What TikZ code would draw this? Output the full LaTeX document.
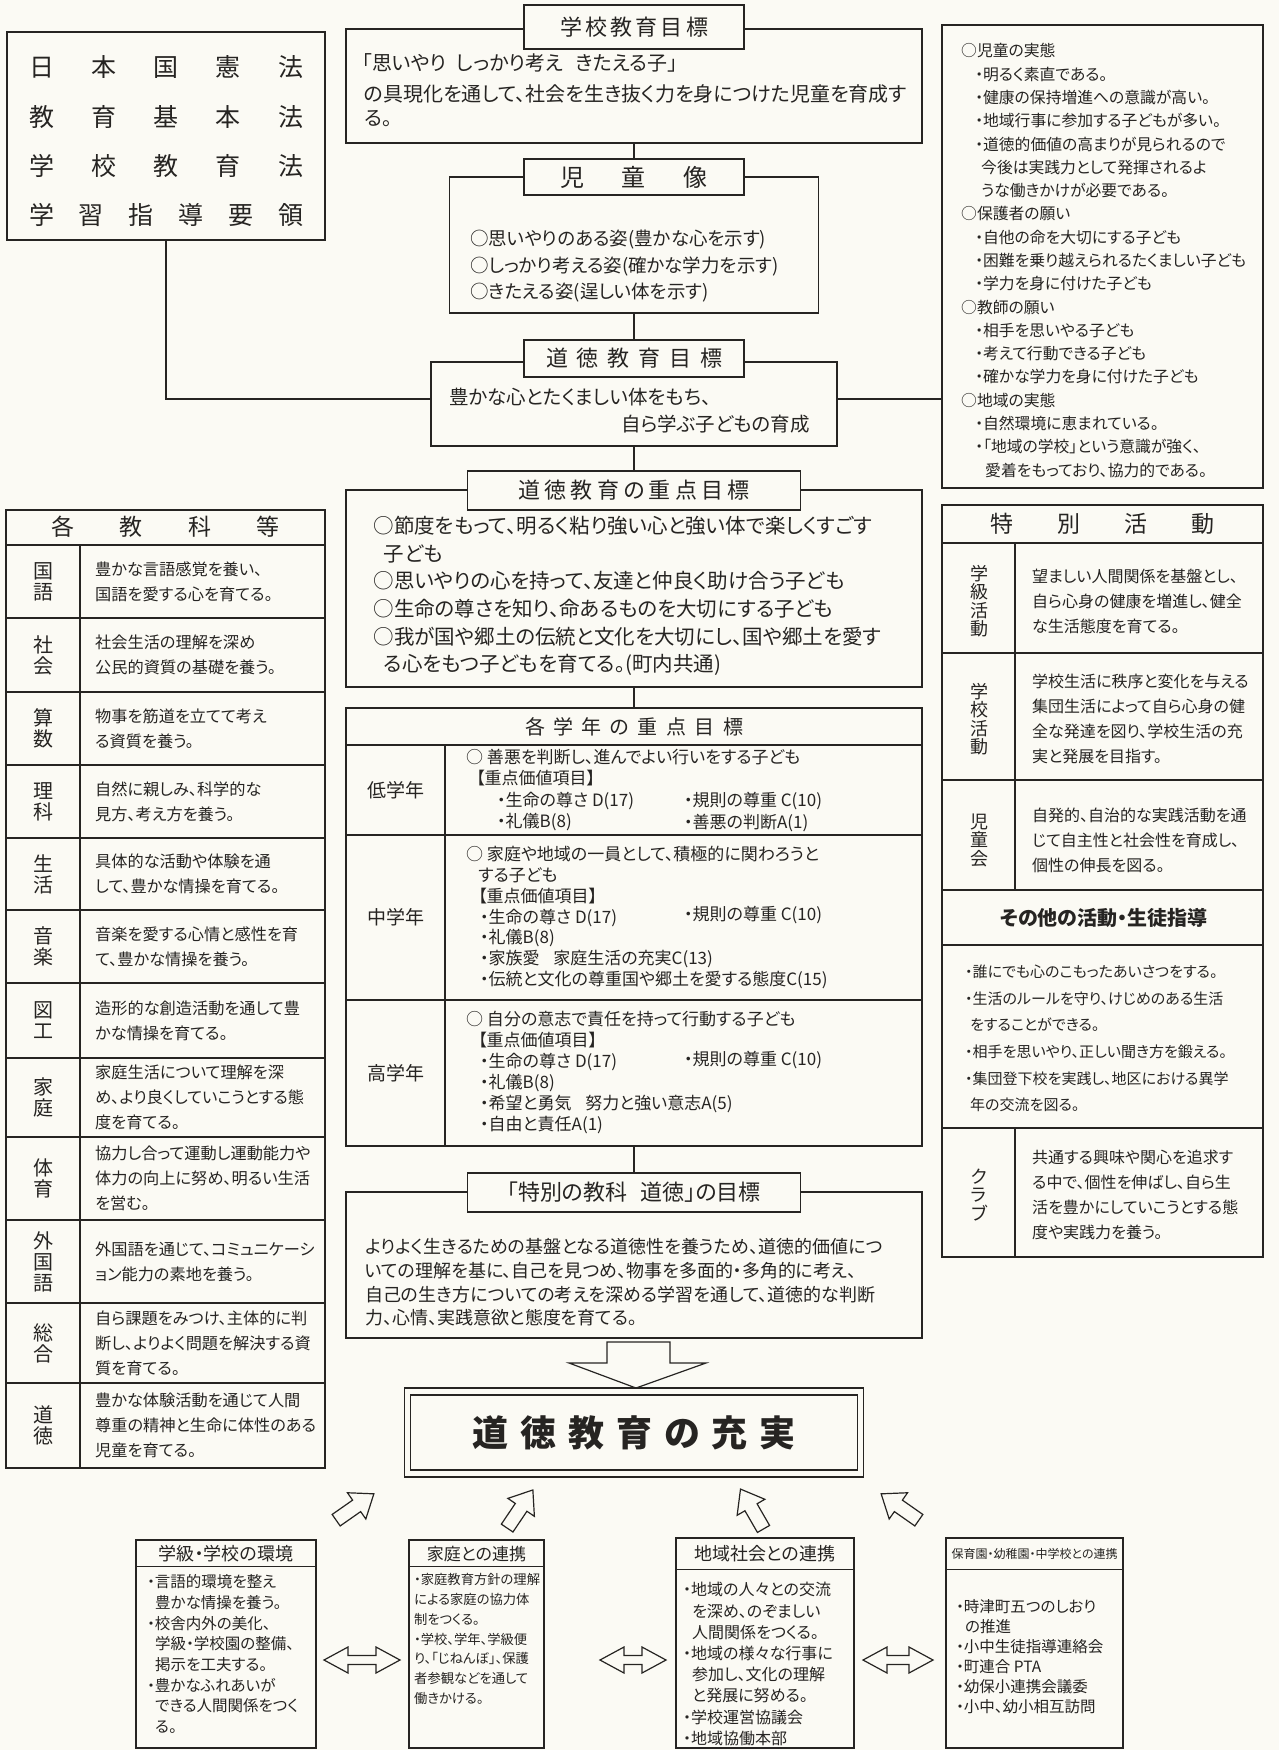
\documentclass[tikz,border=0pt]{standalone}
\usepackage{fontspec}
\setmainfont{Noto Sans CJK JP}[RawFeature=+palt]
\usepackage{tikz}
\usetikzlibrary{calc, positioning}
\usepackage{xcolor}
\definecolor{ink}{RGB}{38,36,34}
\definecolor{paper}{RGB}{251,250,244}
\newcommand{\setfs}[2]{\fontsize{#1pt}{#2pt}\selectfont}

\begin{document}
\begin{tikzpicture}[x=1pt, y=-1pt,
  box/.style={draw=ink, line width=1.4pt, inner sep=0pt, rectangle, text=ink},
  titlebox/.style={box, fill=paper},
  txt/.style={inner sep=0pt, align=left, text=ink},
  link/.style={draw=ink, line width=1.4pt},
  rule/.style={draw=ink, line width=1.2pt},
  blockarrow/.style={draw=ink, line width=1.2pt, fill=paper, line join=miter}]

  % Canvas
  \fill[paper] (0,0) rectangle (1279,1750);
  \useasboundingbox (0,0) rectangle (1279,1750);

  % Laws
  \node[box, minimum width=318pt, minimum height=208pt] (laws) at (166,136) {};
  \foreach \row/\y in {{日\hfill 本\hfill 国\hfill 憲\hfill 法}/67, {教\hfill 育\hfill 基\hfill 本\hfill 法}/117,
                       {学\hfill 校\hfill 教\hfill 育\hfill 法}/166, {学\hfill 習\hfill 指\hfill 導\hfill 要\hfill 領}/215}
    \node[txt, font=\setfs{25}{25}] at (166,\y) {\makebox[274pt][s]{\row}};

  % School goal
  \node[box, minimum width=576pt, minimum height=114pt] (schoolbody) at (634,86) {};
  \node[titlebox, minimum width=220pt, minimum height=44pt, font=\setfs{22}{22}] (schooltitle) at (634,27)
    {\makebox[148pt][s]{学\hfill 校\hfill 教\hfill 育\hfill 目\hfill 標}};
  \node[txt, anchor=west, font=\setfs{20}{24}] at (362,63)
    {「思いやり\hspace{0.5em}しっかり考え\hspace{0.6em}きたえる子」};
  \node[txt, anchor=west, font=\setfs{20}{24}] at (364,106)
    {の具現化を通して、社会を生き抜く力を身につけた児童を育成す\\る。};

  % Child image
  \node[box, minimum width=369pt, minimum height=136pt] (childbody) at (634,245) {};
  \node[titlebox, minimum width=220pt, minimum height=36pt, font=\setfs{24}{24}] (childtitle) at (634,177)
    {\makebox[147pt][s]{児\hfill 童\hfill 像}};
  \node[txt, anchor=west, font=\setfs{18.5}{26.5}] at (470,266.5)
    {○思いやりのある姿(豊かな心を示す)\\○しっかり考える姿(確かな学力を示す)\\○きたえる姿(逞しい体を示す)};

  % Moral education goal
  \node[box, minimum width=406pt, minimum height=84pt] (moralbody) at (634,404) {};
  \node[titlebox, minimum width=220pt, minimum height=37pt, font=\setfs{22}{22}] (moraltitle) at (634,358.5)
    {\makebox[176pt][s]{道\hfill 徳\hfill 教\hfill 育\hfill 目\hfill 標}};
  \node[txt, anchor=west, font=\setfs{19.5}{24}] at (449,397) {豊かな心とたくましい体をもち、};
  \node[txt, anchor=east, font=\setfs{19.5}{24}] at (810,424) {自ら学ぶ子どもの育成};

  % Actual state and wishes
  \node[box, minimum width=321pt, minimum height=463pt] (realbox) at (1102.5,256.5) {};
  \node[txt, anchor=west, font=\setfs{15.8}{23.28}] at (961,260.5)
    {○児童の実態\\
     \hspace*{14pt}・明るく素直である。\\
     \hspace*{14pt}・健康の保持増進への意識が高い。\\
     \hspace*{14pt}・地域行事に参加する子どもが多い。\\
     \hspace*{14pt}・道徳的価値の高まりが見られるので\\
     \hspace*{20pt}今後は実践力として発揮されるよ\\
     \hspace*{20pt}うな働きかけが必要である。\\
     ○保護者の願い\\
     \hspace*{14pt}・自他の命を大切にする子ども\\
     \hspace*{14pt}・困難を乗り越えられるたくましい子ども\\
     \hspace*{14pt}・学力を身に付けた子ども\\
     ○教師の願い\\
     \hspace*{14pt}・相手を思いやる子ども\\
     \hspace*{14pt}・考えて行動できる子ども\\
     \hspace*{14pt}・確かな学力を身に付けた子ども\\
     ○地域の実態\\
     \hspace*{14pt}・自然環境に恵まれている。\\
     \hspace*{14pt}・「地域の学校」という意識が強く、\\
     \hspace*{24pt}愛着をもっており、協力的である。};

  % Focus goals
  \node[box, minimum width=576pt, minimum height=197pt] (focusbody) at (634,588.5) {};
  \node[titlebox, minimum width=333pt, minimum height=39pt, font=\setfs{22}{22}] (focustitle) at (634,490.5)
    {\makebox[231pt][s]{道\hfill 徳\hfill 教\hfill 育\hfill の\hfill 重\hfill 点\hfill 目\hfill 標}};
  \node[txt, anchor=west, font=\setfs{20.5}{27.6}] at (373.5,596)
    {○節度をもって、明るく粘り強い心と強い体で楽しくすごす\\
     \hspace*{0.5em}子ども\\
     ○思いやりの心を持って、友達と仲良く助け合う子ども\\
     ○生命の尊さを知り、命あるものを大切にする子ども\\
     ○我が国や郷土の伝統と文化を大切にし、国や郷土を愛す\\
     \hspace*{0.5em}る心をもつ子どもを育てる。(町内共通)};

  % Grade goals table
  \node[box, minimum width=576pt, minimum height=438pt] (grades) at (634,927) {};
  \node[txt, font=\setfs{20}{20}] at (634,727)
    {\makebox[218pt][s]{各\hfill 学\hfill 年\hfill の\hfill 重\hfill 点\hfill 目\hfill 標}};
  \draw[rule] (346,745) -- (922,745);
  \draw[rule] (346,835) -- (922,835);
  \draw[rule] (346,1000) -- (922,1000);
  \draw[rule] (445,745) -- (445,1146);
  \node[txt, font=\setfs{19}{19}] at (396,790) {低学年};
  \node[txt, font=\setfs{19}{19}] at (396,917) {中学年};
  \node[txt, font=\setfs{19}{19}] at (396,1073) {高学年};
  \node[txt, anchor=west, font=\setfs{17}{21.3}] at (466,790)
    {○ 善悪を判断し、進んでよい行いをする子ども\\
     \hspace*{10pt}【重点価値項目】\\
     \hspace*{31pt}・生命の尊さ D(17)\\
     \hspace*{31pt}・礼儀B(8)};
  \node[txt, anchor=west, font=\setfs{17}{21.3}] at (684,812) {・規則の尊重 C(10)\\・善悪の判断A(1)};
  \node[txt, anchor=west, font=\setfs{17}{20.8}] at (466,917.5)
    {○ 家庭や地域の一員として、積極的に関わろうと\\
     \hspace*{12pt}する子ども\\
     \hspace*{12pt}【重点価値項目】\\
     \hspace*{14pt}・生命の尊さ D(17)\\
     \hspace*{14pt}・礼儀B(8)\\
     \hspace*{14pt}・家族愛\hspace{0.8em}家庭生活の充実C(13)\\
     \hspace*{14pt}・伝統と文化の尊重国や郷土を愛する態度C(15)};
  \node[txt, anchor=west, font=\setfs{17}{20.8}] at (684,915) {・規則の尊重 C(10)};
  \node[txt, anchor=west, font=\setfs{17}{21}] at (466,1072.5)
    {○ 自分の意志で責任を持って行動する子ども\\
     \hspace*{12pt}【重点価値項目】\\
     \hspace*{14pt}・生命の尊さ D(17)\\
     \hspace*{14pt}・礼儀B(8)\\
     \hspace*{14pt}・希望と勇気\hspace{0.8em}努力と強い意志A(5)\\
     \hspace*{14pt}・自由と責任A(1)};
  \node[txt, anchor=west, font=\setfs{17}{21}] at (684,1060) {・規則の尊重 C(10)};

  % Subject goal
  \node[box, minimum width=576pt, minimum height=146pt] (subjbody) at (634,1265) {};
  \node[titlebox, minimum width=333pt, minimum height=39pt, font=\setfs{22}{22}] (subjtitle) at (634,1192.5)
    {「特別の教科\hspace{0.6em}道徳」の目標};
  \node[txt, anchor=west, font=\setfs{18}{23.7}] at (365,1282.5)
    {よりよく生きるための基盤となる道徳性を養うため、道徳的価値につ\\
     いての理解を基に、自己を見つめ、物事を多面的・多角的に考え、\\
     自己の生き方についての考えを深める学習を通して、道徳的な判断\\
     力、心情、実践意欲と態度を育てる。};

  % Links
  \coordinate (yline) at (0,399);
  \draw[link] (laws.south) |- (moralbody.west |- yline);
  \draw[link] (moralbody.east |- yline) -- (realbox.west |- yline);
  \draw[link] (schoolbody.south) -- (childtitle.north);
  \draw[link] (childbody.south) -- (moraltitle.north);
  \draw[link] (moralbody.south) -- (focustitle.north);
  \draw[link] (focusbody.south) -- (grades.north);
  \draw[link] (grades.south) -- (subjtitle.north);

  % Down arrow
  \draw[blockarrow] (607,1342) -- (670,1342) -- (670,1363) -- (706,1363) -- (636,1388)
    -- (569,1363) -- (607,1363) -- cycle;

  % Fulfilment
  \node[box, minimum width=459pt, minimum height=89pt] (fulfilout) at (634,1432.5) {};
  \node[box, minimum width=447pt, minimum height=75pt, font=\setfs{36}{36}\bfseries] (fulfil) at (fulfilout)
    {\makebox[323pt][s]{道\hfill 徳\hfill 教\hfill 育\hfill の\hfill 充\hfill 実}};

  % Up arrows
  \foreach \x/\y/\a in {355/1507/35, 520/1509/56, 752/1509/120, 900/1507/145}
    \draw[blockarrow, shift={(\x,\y)}, rotate=\a]
      (-23,-7) -- (2,-7) -- (2,-16) -- (23,0) -- (2,16) -- (2,7) -- (-23,7) -- cycle;

  % Subjects table
  \node[box, minimum width=319pt, minimum height=958pt] (subjects) at (165.5,989) {};
  \node[txt, font=\setfs{23}{23}] at (165.5,527) {\makebox[229pt][s]{各\hfill 教\hfill 科\hfill 等}};
  \draw[rule] (6,545) -- (325,545);
  \draw[rule] (80,545) -- (80,1468);
  \foreach \y in {618,692,765,838,910,983,1058,1137,1220,1303,1383}
    \draw[rule] (6,\y) -- (325,\y);
  \foreach \lab/\desc/\y in {
      {国\\語}/{豊かな言語感覚を養い、\\国語を愛する心を育てる。}/581.5,
      {社\\会}/{社会生活の理解を深め\\公民的資質の基礎を養う。}/655,
      {算\\数}/{物事を筋道を立てて考え\\る資質を養う。}/728.5,
      {理\\科}/{自然に親しみ、科学的な\\見方、考え方を養う。}/801.5,
      {生\\活}/{具体的な活動や体験を通\\して、豊かな情操を育てる。}/874,
      {音\\楽}/{音楽を愛する心情と感性を育\\て、豊かな情操を養う。}/946.5,
      {図\\工}/{造形的な創造活動を通して豊\\かな情操を育てる。}/1020.5,
      {家\\庭}/{家庭生活について理解を深\\め、より良くしていこうとする態\\度を育てる。}/1097.5,
      {体\\育}/{協力し合って運動し運動能力や\\体力の向上に努め、明るい生活\\を営む。}/1178.5,
      {外\\国\\語}/{外国語を通じて、コミュニケーシ\\ョン能力の素地を養う。}/1261.5,
      {総\\合}/{自ら課題をみつけ、主体的に判\\断し、よりよく問題を解決する資\\質を育てる。}/1343,
      {道\\徳}/{豊かな体験活動を通じて人間\\尊重の精神と生命に体性のある\\児童を育てる。}/1425.5}
  {
    \node[txt, align=center, font=\setfs{20}{21}] at (43,\y) {\lab};
    \node[txt, anchor=west, font=\setfs{16.2}{25}] at (95,\y) {\desc};
  }

  % Special activities table
  \node[box, minimum width=321pt, minimum height=752pt] (special) at (1102.5,881) {};
  \node[txt, font=\setfs{23}{23}] at (1102.5,524) {\makebox[224pt][s]{特\hfill 別\hfill 活\hfill 動}};
  \foreach \y in {543,653,780,890,945,1128}
    \draw[rule] (942,\y) -- (1263,\y);
  \draw[rule] (1015,543) -- (1015,890);
  \draw[rule] (1015,1128) -- (1015,1257);
  \foreach \lab/\desc/\y in {
      {学\\級\\活\\動}/{望ましい人間関係を基盤とし、\\自ら心身の健康を増進し、健全\\な生活態度を育てる。}/601,
      {学\\校\\活\\動}/{学校生活に秩序と変化を与える\\集団生活によって自ら心身の健\\全な発達を図り、学校生活の充\\実と発展を目指す。}/719,
      {児\\童\\会}/{自発的、自治的な実践活動を通\\じて自主性と社会性を育成し、\\個性の伸長を図る。}/840,
      {ク\\ラ\\ブ}/{共通する興味や関心を追求す\\る中で、個性を伸ばし、自ら生\\活を豊かにしていこうとする態\\度や実践力を養う。}/1195}
  {
    \node[txt, align=center, font=\setfs{18}{18.5}] at (979,\y) {\lab};
    \node[txt, anchor=west, font=\setfs{16}{25}] at (1032,\y) {\desc};
  }
  \node[txt, font=\setfs{20}{20}\bfseries] at (1104,918) {その他の活動・生徒指導};
  \node[txt, anchor=west, font=\setfs{15}{26.6}] at (965,1038.5)
    {・誰にでも心のこもったあいさつをする。\\
     ・生活のルールを守り、けじめのある生活\\
     \hspace*{5pt}をすることができる。\\
     ・相手を思いやり、正しい聞き方を鍛える。\\
     ・集団登下校を実践し、地区における異学\\
     \hspace*{5pt}年の交流を図る。};

  % Cooperation boxes
  \node[box, minimum width=180pt, minimum height=208pt] (env) at (226,1644) {};
  \node[txt, font=\setfs{18}{18}] at (226,1554) {学級・学校の環境};
  \draw[rule] ($(env.north west)+(0,27)$) -- ($(env.north east)+(0,27)$);
  \node[txt, anchor=west, font=\setfs{15.5}{20.7}] at (147,1654)
    {・言語的環境を整え\\
     \hspace*{8pt}豊かな情操を養う。\\
     ・校舎内外の美化、\\
     \hspace*{8pt}学級・学校園の整備、\\
     \hspace*{8pt}掲示を工夫する。\\
     ・豊かなふれあいが\\
     \hspace*{8pt}できる人間関係をつく\\
     \hspace*{8pt}る。};

  \node[box, minimum width=135pt, minimum height=208pt] (home) at (476.5,1644) {};
  \node[txt, font=\setfs{17}{17}] at (476.5,1554) {家庭との連携};
  \draw[rule] ($(home.north west)+(0,27)$) -- ($(home.north east)+(0,27)$);
  \node[txt, anchor=west, font=\setfs{13.3}{19.7}] at (414,1639)
    {・家庭教育方針の理解\\による家庭の協力体\\制をつくる。\\・学校、学年、学級便\\り、「じねんぼ」、保護\\者参観などを通して\\働きかける。};

  \node[box, minimum width=178pt, minimum height=210pt] (region) at (765,1643) {};
  \node[txt, font=\setfs{18}{18}] at (765,1554) {地域社会との連携};
  \draw[rule] ($(region.north west)+(0,32)$) -- ($(region.north east)+(0,32)$);
  \node[txt, anchor=west, font=\setfs{16}{21.2}] at (683,1664)
    {・地域の人々との交流\\
     \hspace*{9pt}を深め、のぞましい\\
     \hspace*{9pt}人間関係をつくる。\\
     ・地域の様々な行事に\\
     \hspace*{9pt}参加し、文化の理解\\
     \hspace*{9pt}と発展に努める。\\
     ・学校運営協議会\\
     ・地域協働本部};

  \node[box, minimum width=177pt, minimum height=210pt] (nursery) at (1034.5,1643) {};
  \node[txt, font=\setfs{12}{12}] at (1034.5,1554) {保育園・幼稚園・中学校との連携};
  \draw[rule] ($(nursery.north west)+(0,32)$) -- ($(nursery.north east)+(0,32)$);
  \node[txt, anchor=west, font=\setfs{15.5}{20}] at (956,1657)
    {・時津町五つのしおり\\
     \hspace*{9pt}の推進\\
     ・小中生徒指導連絡会\\
     ・町連合 PTA\\
     ・幼保小連携会議委\\
     ・小中、幼小相互訪問};

  % Double arrows
  \foreach \l/\r in {324/400, 600/666, 863/933}
    \draw[blockarrow] (\l,1660) -- (\l+24,1647) -- (\l+24,1655.5) -- (\r-24,1655.5) -- (\r-24,1647)
      -- (\r,1660) -- (\r-24,1673) -- (\r-24,1664.5) -- (\l+24,1664.5) -- (\l+24,1673) -- cycle;
\end{tikzpicture}
\end{document}
